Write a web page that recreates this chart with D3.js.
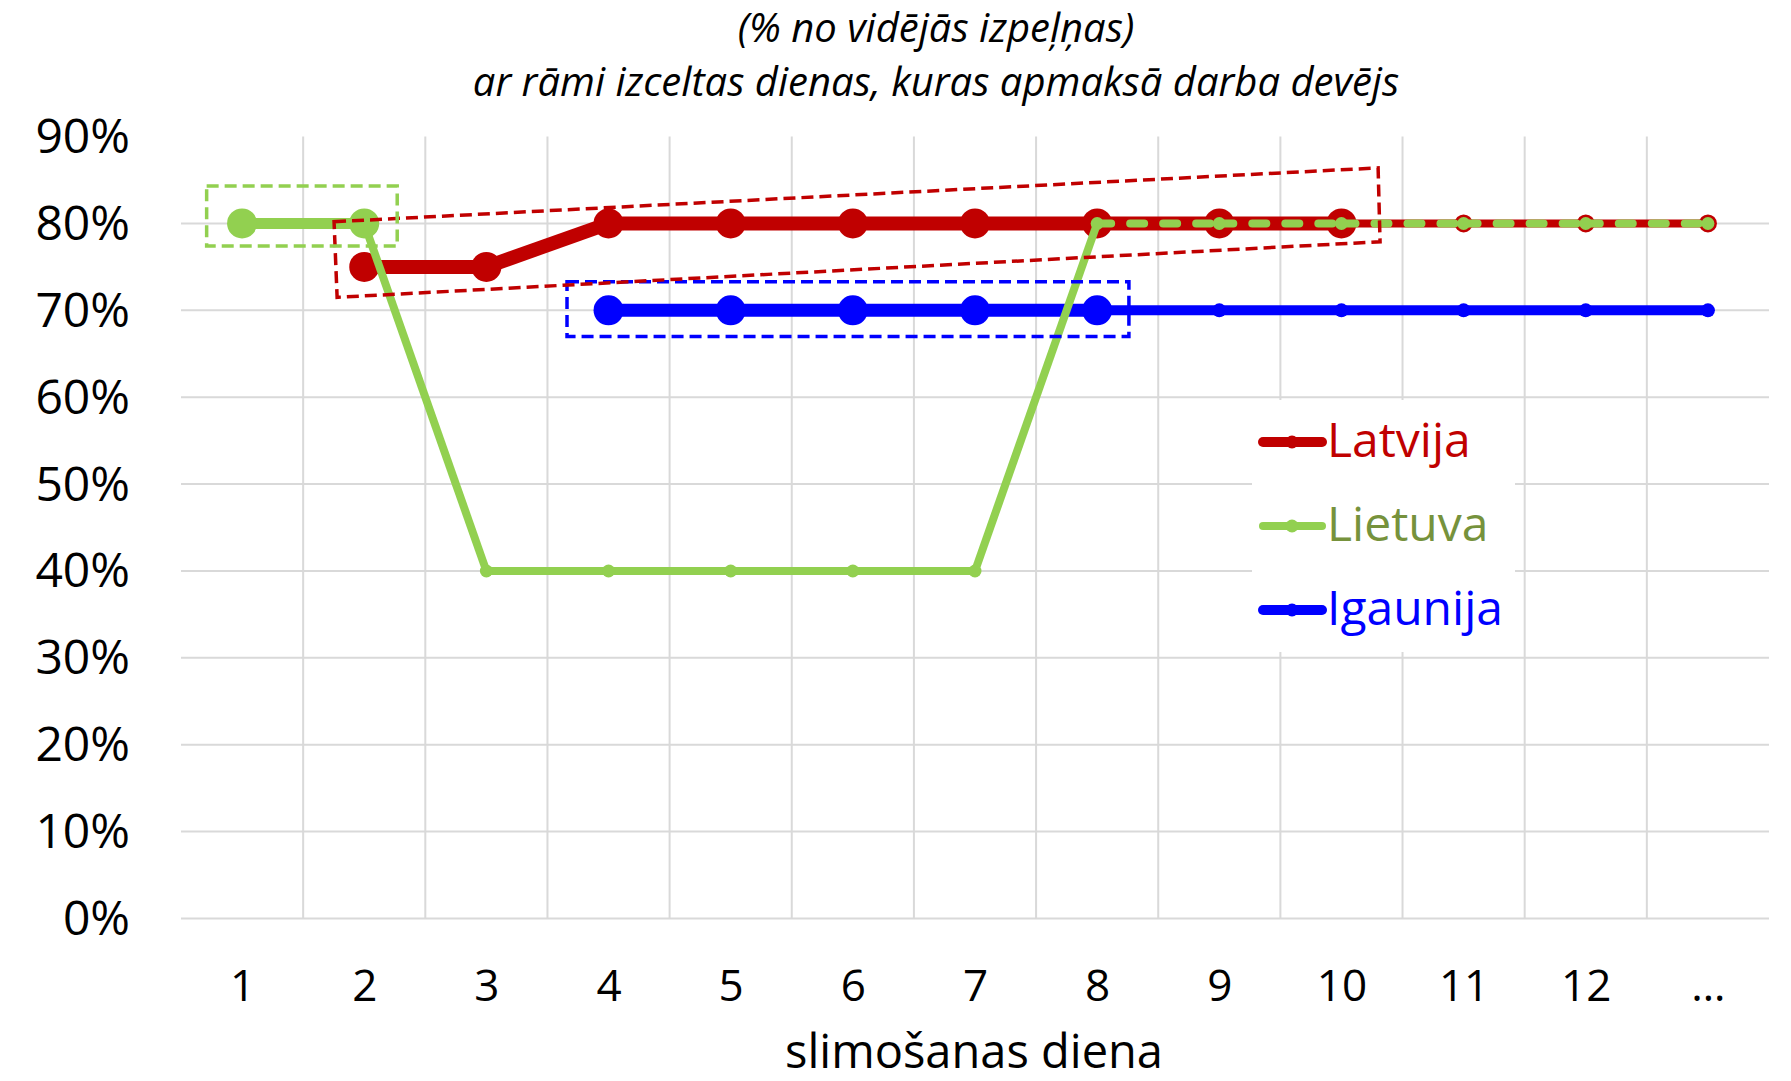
<!DOCTYPE html>
<html>
<head>
<meta charset="utf-8">
<script src="https://cdn.jsdelivr.net/npm/d3@7"></script>
<style>
  body { margin: 0; background: #fff; }
  svg { display: block; }
  text { font-family: 'Open Sans', 'DejaVu Sans', sans-serif; }
</style>
</head>
<body>
<svg id="chart" width="1791" height="1081"></svg>
<script>
// sick-leave benefit, share of average earnings, by day of illness
const days = ['1', '2', '3', '4', '5', '6', '7', '8', '9', '10', '11', '12', '…'];
const latvija  = [null, 0.75, 0.75, 0.8, 0.8, 0.8, 0.8, 0.8, 0.8, 0.8, 0.8, 0.8, 0.8];
const lietuva  = [0.8, 0.8, 0.4, 0.4, 0.4, 0.4, 0.4, 0.8, 0.8, 0.8, 0.8, 0.8, 0.8];
const igaunija = [null, null, null, 0.7, 0.7, 0.7, 0.7, 0.7, 0.7, 0.7, 0.7, 0.7, 0.7];

// days paid by the employer (framed in the chart)
const latvijaEmployer  = ['2', '3', '4', '5', '6', '7', '8', '9', '10'];
const lietuvaEmployer  = ['1', '2'];
const igaunijaEmployer = ['4', '5', '6', '7', '8'];

// frame corners as [day index, share]
const lietuvaFrame  = [[-0.29, 0.843], [1.27, 0.843], [1.27, 0.774], [-0.29, 0.774]];
const latvijaFrame  = [[0.753, 0.802], [9.30, 0.864], [9.316, 0.779], [0.778, 0.715]];
const igaunijaFrame = [[2.66, 0.733], [7.26, 0.733], [7.26, 0.670], [2.66, 0.670]];

const yTicks = [0, 0.1, 0.2, 0.3, 0.4, 0.5, 0.6, 0.7, 0.8, 0.9];
const titleLines = ['(% no vidējās izpeļņas)', 'ar rāmi izceltas dienas, kuras apmaksā darba devējs'];
const xTitle = 'slimošanas diena';

var svg = d3.select('#chart');

var x = d3.scalePoint().domain(days).range([181, 1769]).padding(0.5);
var xi = d3.scaleLinear().domain([0, days.length - 1]).range([x(days[0]), x(days[days.length - 1])]);
var y = d3.scaleLinear().domain([0, 0.9]).range([918.5, 136.6]);

// grid
var grid = svg.append('g').attr('stroke', '#d9d9d9').attr('stroke-width', 2);
grid.selectAll('.hgrid')
    .data(yTicks.filter(function(v) { return v < 0.85; }))
    .join('line')
    .attr('x1', 181).attr('x2', 1769)
    .attr('y1', function(d) { return y(d); })
    .attr('y2', function(d) { return y(d); });
grid.selectAll('.vgrid')
    .data(days.slice(1))
    .join('line')
    .attr('x1', function(d) { return x(d) - x.step() / 2; })
    .attr('x2', function(d) { return x(d) - x.step() / 2; })
    .attr('y1', y(0.9)).attr('y2', y(0));

// axes (labels only)
var yAxis = svg.append('g')
    .attr('transform', 'translate(130,0)')
    .call(d3.axisLeft(y).tickValues(yTicks).tickFormat(d3.format('.0%')).tickSize(0).tickPadding(0));
yAxis.select('.domain').remove();
yAxis.selectAll('text')
    .attr('font-family', null)
    .attr('font-size', 48).attr('fill', '#000')
    .attr('dy', 16);

var xAxis = svg.append('g')
    .attr('transform', 'translate(0,1001)')
    .call(d3.axisBottom(x).tickSize(0).tickPadding(0));
xAxis.select('.domain').remove();
xAxis.selectAll('text')
    .attr('font-family', null)
    .attr('font-size', 44).attr('fill', '#000')
    .attr('dy', 0).attr('y', 0);

svg.append('text')
    .attr('x', 974).attr('y', 1068)
    .attr('text-anchor', 'middle')
    .attr('font-size', 47)
    .text(xTitle);

svg.selectAll('.title')
    .data(titleLines)
    .join('text')
    .attr('x', 936)
    .attr('y', function(d, i) { return 42 + i * 54; })
    .attr('text-anchor', 'middle')
    .attr('font-size', 40)
    .attr('font-style', 'italic')
    .text(function(d) { return d; });

// series
var series = [
    {name: 'Igaunija', values: igaunija, paid: igaunijaEmployer, frame: igaunijaFrame,
     color: '#0000ff', label: '#0000ff', thick: 13, thin: 10, rBig: 15, rSmall: 7},
    {name: 'Latvija', values: latvija, paid: latvijaEmployer, frame: latvijaFrame,
     color: '#c00000', label: '#c00000', thick: 14, thin: 8, rBig: 15, rSmall: 9},
    {name: 'Lietuva', values: lietuva, paid: lietuvaEmployer, frame: lietuvaFrame, overlap: latvija,
     color: '#92d050', label: '#76923c', thick: 11, thin: 8, rBig: 15, rSmall: 6.5}
];

var line = d3.line()
    .x(function(d) { return x(d.day); })
    .y(function(d) { return y(d.v); });

series.forEach(function(s) {
    var g = svg.append('g');
    var segs = [];
    for (var i = 0; i < days.length - 1; i++) {
        if (s.values[i] == null || s.values[i + 1] == null) continue;
        var thick = s.paid.includes(days[i]) && s.paid.includes(days[i + 1]);
        /* where the line lies on top of another country, dash it so both show */
        var dashed = s.overlap && s.overlap[i] === s.values[i] && s.overlap[i + 1] === s.values[i + 1];
        segs.push({pts: [{day: days[i], v: s.values[i]}, {day: days[i + 1], v: s.values[i + 1]}],
                   thick: thick, dashed: dashed});
    }
    g.selectAll('path')
        .data(segs)
        .join('path')
        .attr('d', function(d) { return line(d.pts); })
        .attr('fill', 'none')
        .attr('stroke', s.color)
        .attr('stroke-width', function(d) { return d.thick ? s.thick : s.thin; })
        .attr('stroke-linecap', function(d) { return d.dashed ? 'round' : 'butt'; })
        .attr('stroke-dasharray', function(d) { return d.dashed ? '14,19' : null; });

    var pts = days.map(function(d, i) { return {day: d, v: s.values[i]}; })
        .filter(function(d) { return d.v != null; });
    g.selectAll('circle')
        .data(pts)
        .join('circle')
        .attr('cx', function(d) { return x(d.day); })
        .attr('cy', function(d) { return y(d.v); })
        .attr('r', function(d) { return s.paid.includes(d.day) ? s.rBig : s.rSmall; })
        .attr('fill', s.color);
});

// employer frames
svg.append('g')
    .selectAll('path')
    .data(series)
    .join('path')
    .attr('d', function(s) {
        return d3.line().x(function(p) { return xi(p[0]); }).y(function(p) { return y(p[1]); })(s.frame) + 'Z';
    })
    .attr('fill', 'none')
    .attr('stroke', function(s) { return s.color; })
    .attr('stroke-width', 3.5)
    .attr('stroke-dasharray', '12,6');

// legend
var legend = svg.append('g');
legend.append('rect')
    .attr('x', 1252).attr('y', 400).attr('width', 263).attr('height', 252)
    .attr('fill', '#fff');
var legendOrder = [series[1], series[2], series[0]];
var item = legend.selectAll('.item')
    .data(legendOrder)
    .join('g')
    .attr('transform', function(d, i) { return 'translate(1263,' + (442 + i * 84) + ')'; });
item.append('line')
    .attr('x1', 0).attr('x2', 59)
    .attr('stroke', function(d) { return d.color; })
    .attr('stroke-width', function(d) { return d.name === 'Lietuva' ? 8 : 10; })
    .attr('stroke-linecap', 'round');
item.append('circle')
    .attr('cx', 29).attr('r', 6.5)
    .attr('fill', function(d) { return d.color; });
item.append('text')
    .attr('x', 64).attr('y', 15)
    .attr('font-size', 48)
    .attr('fill', function(d) { return d.label; })
    .text(function(d) { return d.name; });
</script>
</body>
</html>
